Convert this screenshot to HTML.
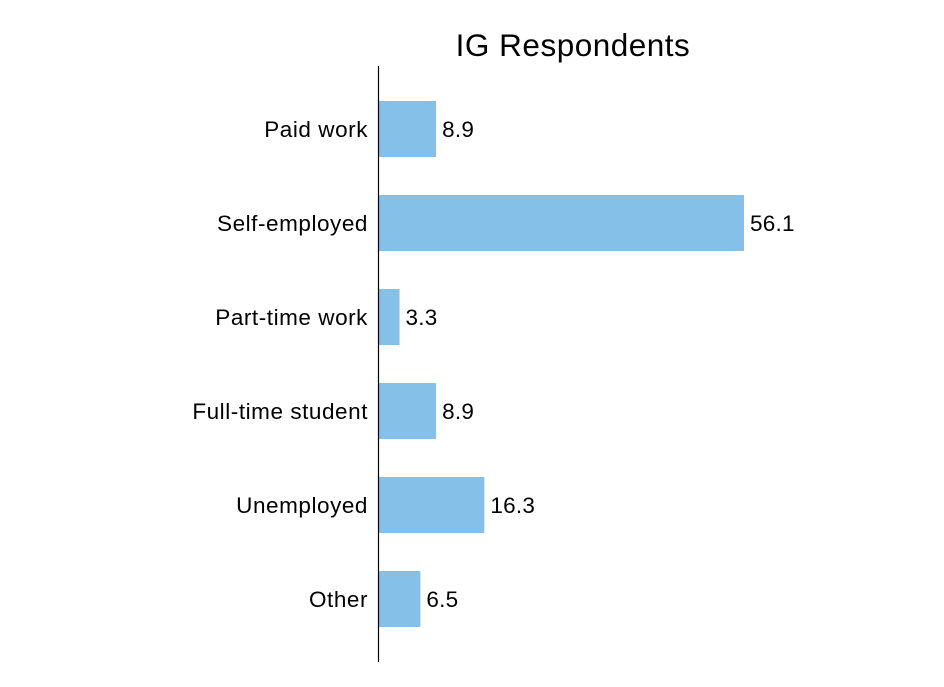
<!DOCTYPE html>
<html><head><meta charset="utf-8"><style>
body{margin:0;background:#fff;}
svg{display:block;font-family:"Liberation Sans",Arial,sans-serif;}
</style></head><body>
<svg id="chart" width="944" height="687">
<text x="573" y="56" font-size="31.5" letter-spacing="0.5" text-anchor="middle" fill="#000">IG Respondents</text>
<g id="bars"></g>
<line x1="378.5" y1="66" x2="378.5" y2="662" stroke="#000" stroke-width="1.2"/>
</svg>
<script>
const categories=["Paid work","Self-employed","Part-time work","Full-time student","Unemployed","Other"];
const values=[8.9,56.1,3.3,8.9,16.3,6.5];
const x0=378, pxPerUnit=366/56.1;
const xScale=v=>x0+v*pxPerUnit;
const yCenter=i=>129+i*94;
const barH=56;
const g=document.getElementById('bars');
const ns="http://www.w3.org/2000/svg";
categories.forEach((c,i)=>{
  const r=document.createElementNS(ns,'rect');
  r.setAttribute('x',x0);r.setAttribute('y',yCenter(i)-barH/2);
  r.setAttribute('width',xScale(values[i])-x0);r.setAttribute('height',barH);
  r.setAttribute('fill','#85C0E9');
  
  
  g.appendChild(r);
  const t=document.createElementNS(ns,'text');
  t.setAttribute('x',368);t.setAttribute('y',yCenter(i)+8);
  t.setAttribute('text-anchor','end');t.setAttribute('font-size','22.5');
  t.setAttribute('letter-spacing','0.55');
  t.textContent=c;
  
  
  g.appendChild(t);
  const v=document.createElementNS(ns,'text');
  v.setAttribute('x',xScale(values[i])+6);v.setAttribute('y',yCenter(i)+8);
  v.setAttribute('font-size','22.5');
  v.setAttribute('letter-spacing','0.25');
  v.textContent=values[i].toFixed(1);
  
  
  g.appendChild(v);
});
</script>
</body></html>
